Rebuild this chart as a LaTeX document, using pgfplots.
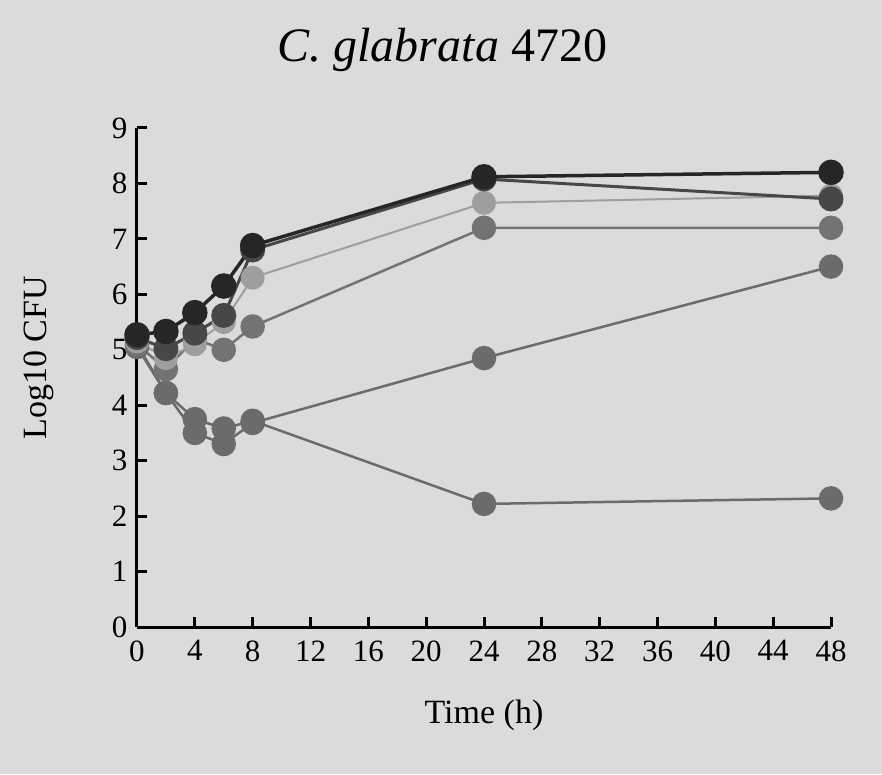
\documentclass[border=0pt]{standalone}
\usepackage{fontspec}
\setmainfont{Liberation Serif}
\usepackage{pgfplots}
\pgfplotsset{compat=1.18}
\usetikzlibrary{backgrounds}
\definecolor{Paper}{gray}{0.86}
\definecolor{SerA}{gray}{0.15}
\definecolor{SerB}{gray}{0.28}
\definecolor{SerC}{gray}{0.62}
\definecolor{SerD}{gray}{0.45}
\definecolor{SerE}{gray}{0.42}
\definecolor{SerF}{gray}{0.42}
\begin{document}
\begin{tikzpicture}
  \begin{axis}[
    name=ax,
    scale only axis,
    width=694pt, height=499pt,
    xmin=0, xmax=48, ymin=0, ymax=9,
    xtick={0,4,...,48}, ytick={0,1,...,9},
    axis x line*=bottom, axis y line*=left,
    axis line style={line width=3pt,-},
    tick style={line width=3pt,color=black},
    major tick length=10pt,
    tick align=inside,
    tick label style={font=\fontsize{31}{34}\selectfont},
    /pgf/number format/assume math mode=true,
    xticklabel style={yshift=-10pt},
    yticklabel style={xshift=-6pt},
    xlabel={Time (h)},
    ylabel={Log10 CFU},
    label style={font=\fontsize{34}{38}\selectfont},
    xlabel style={at={(axis description cs:0.5,-0.176)},anchor=center},
    ylabel style={at={(axis description cs:-0.142,0.54)},anchor=center},
    title={\textit{C. glabrata} 4720},
    title style={font=\fontsize{48}{54}\selectfont,at={(axis description cs:0.44,1.145)},anchor=center},
    clip=false,
    every axis plot/.append style={mark=*,mark size=11pt},
  ]
    \addplot[color=SerF,line width=2.5pt] coordinates {(0,5.05)(2,4.22)(4,3.75)(6,3.58)(8,3.72)(24,2.22)(48,2.32)};
    \addplot[color=SerE,line width=2.5pt] coordinates {(0,5.1)(2,4.22)(4,3.5)(6,3.3)(8,3.68)(24,4.85)(48,6.5)};
    \addplot[color=SerD,line width=2.5pt] coordinates {(0,5.1)(2,4.65)(4,5.2)(6,5.0)(8,5.42)(24,7.2)(48,7.2)};
    \addplot[color=SerC,line width=2pt] coordinates {(0,5.15)(2,4.85)(4,5.1)(6,5.5)(8,6.3)(24,7.65)(48,7.78)};
    \addplot[color=SerB,line width=3pt] coordinates {(0,5.22)(2,5.02)(4,5.3)(6,5.62)(8,6.8)(24,8.08)(48,7.72)};
    \addplot[color=SerA,line width=3.5pt] coordinates {(0,5.27)(2,5.33)(4,5.67)(6,6.15)(8,6.88)(24,8.12)(48,8.2)};
  \end{axis}
  \begin{pgfonlayer}{background}
    \fill[Paper] ([xshift=-137pt,yshift=-147pt]ax.south west) rectangle ([xshift=745pt,yshift=627pt]ax.south west);
  \end{pgfonlayer}
\end{tikzpicture}
\end{document}
